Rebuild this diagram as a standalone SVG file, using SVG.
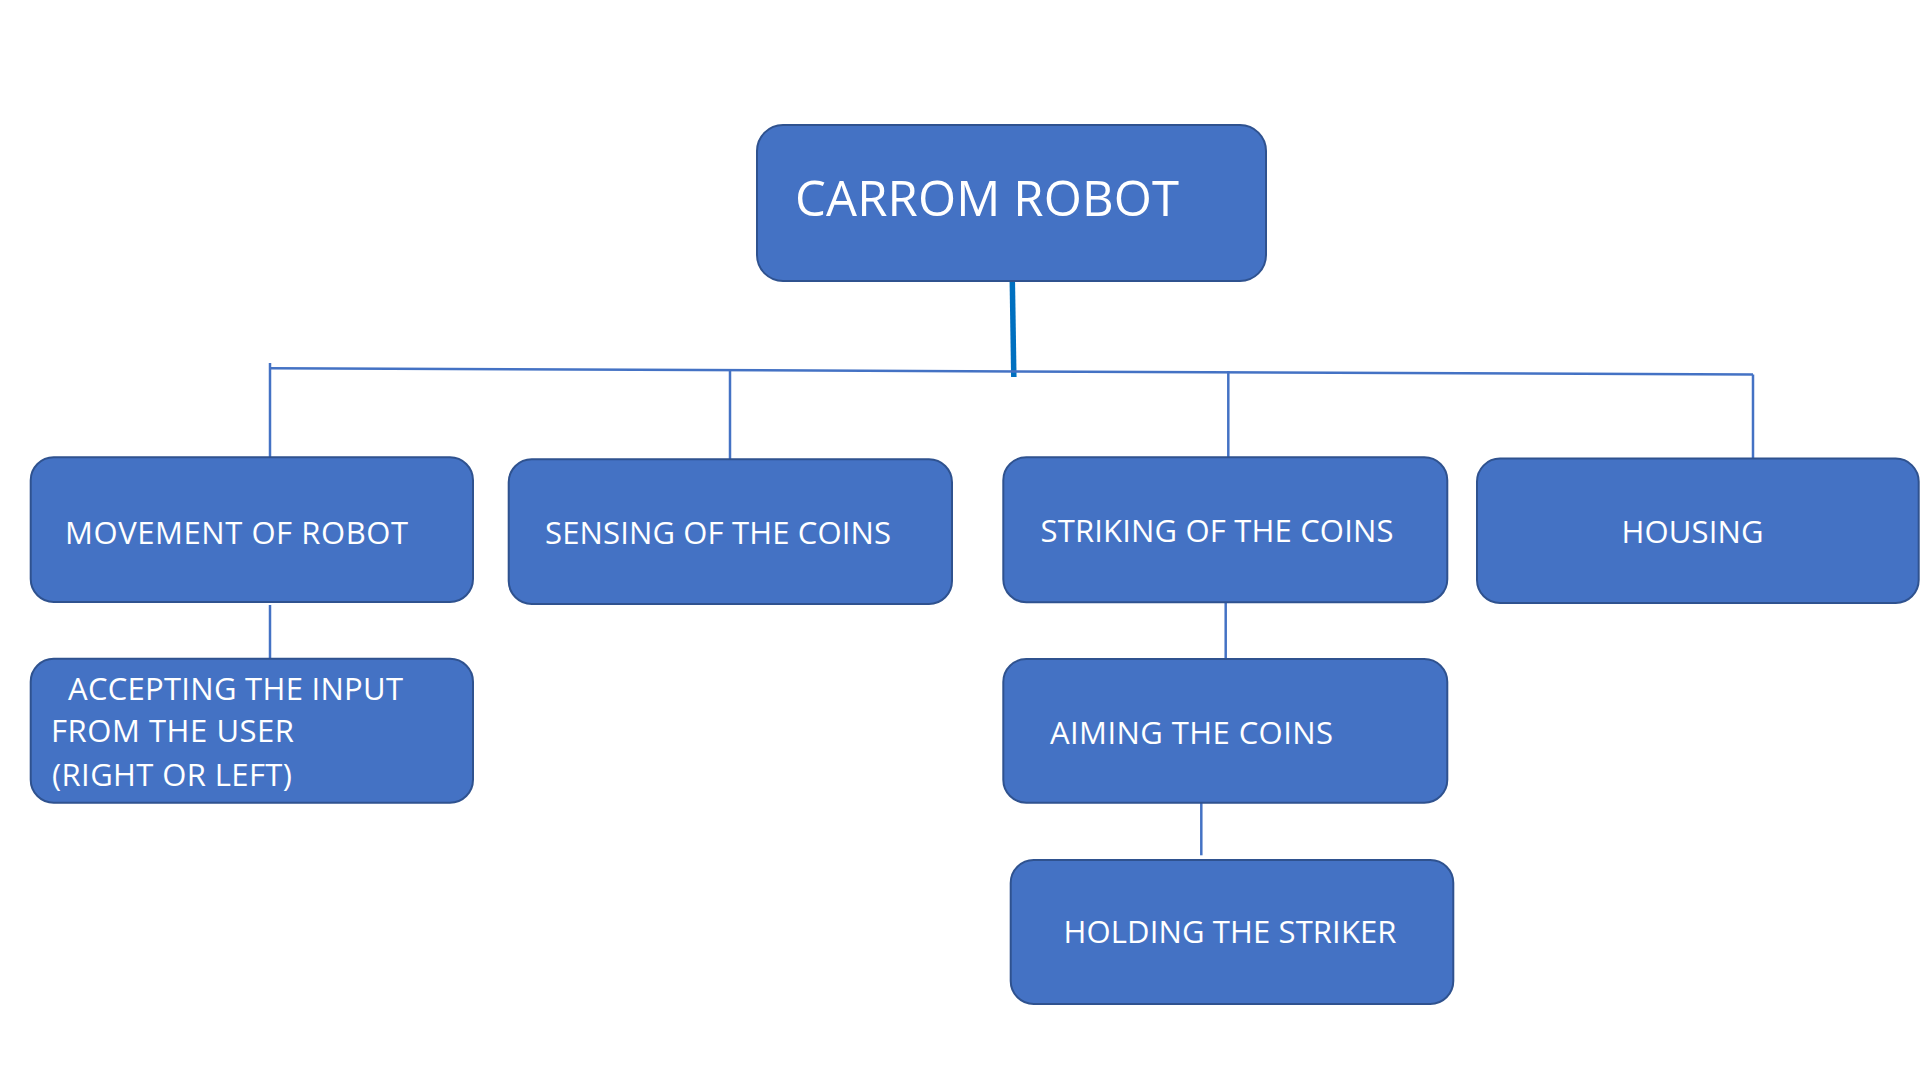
<svg xmlns="http://www.w3.org/2000/svg" width="1920" height="1080" viewBox="0 0 1920 1080">
<style>
.node rect{fill:#4472C4;stroke:#2F528F;stroke-width:2}
.node text{fill:#FFFFFF;font-family:"Open Sans","Noto Sans",sans-serif;font-size:31px}
.conn line{stroke:#4472C4;stroke-width:2.5;fill:none}
.conn line.main{stroke:#0070C0;stroke-width:5.5}
</style>
<rect x="0" y="0" width="1920" height="1080" fill="#FFFFFF"/>
<g id="connectors" class="conn">
  <line class="main" x1="1012.3" y1="281" x2="1013.8" y2="377"/>
  <line x1="270" y1="368.3" x2="1753" y2="374.5"/>
  <line x1="270" y1="363" x2="270" y2="458"/>
  <line x1="730" y1="370" x2="730" y2="460"/>
  <line x1="1228.3" y1="371" x2="1228.3" y2="458"/>
  <line x1="1753" y1="374.5" x2="1753" y2="459"/>
  <line x1="270" y1="605" x2="270" y2="659"/>
  <line x1="1225.7" y1="602" x2="1225.7" y2="659"/>
  <line x1="1201.3" y1="803" x2="1201.3" y2="855.3"/>
</g>
<g id="node-root" class="node">
  <rect x="757" y="125" width="509" height="156" rx="26" ry="26"/>
  <text x="795" y="215.5" style="font-size:49px" textLength="384">CARROM ROBOT</text>
</g>
<g id="node-movement" class="node">
  <rect x="30.7" y="457.3" width="442.3" height="144.7" rx="23" ry="23"/>
  <text x="65" y="544.3" textLength="343">MOVEMENT OF ROBOT</text>
</g>
<g id="node-sensing" class="node">
  <rect x="508.7" y="459.3" width="443.3" height="144.7" rx="23" ry="23"/>
  <text x="545" y="544" textLength="346">SENSING OF THE COINS</text>
</g>
<g id="node-striking" class="node">
  <rect x="1003.3" y="457.3" width="444" height="145" rx="23" ry="23"/>
  <text x="1040.5" y="542.3" textLength="353">STRIKING OF THE COINS</text>
</g>
<g id="node-housing" class="node">
  <rect x="1477" y="458.6" width="441.7" height="144.4" rx="23" ry="23"/>
  <text x="1621.5" y="542.8" textLength="142">HOUSING</text>
</g>
<g id="node-accepting" class="node">
  <rect x="30.7" y="658.7" width="442.3" height="144" rx="23" ry="23"/>
  <text x="68" y="700" textLength="335">ACCEPTING THE INPUT</text>
  <text x="51" y="741.7" textLength="243">FROM THE USER</text>
  <text x="52" y="785.7" textLength="240">(RIGHT OR LEFT)</text>
</g>
<g id="node-aiming" class="node">
  <rect x="1003.3" y="659" width="444" height="143.7" rx="23" ry="23"/>
  <text x="1050" y="744" textLength="283">AIMING THE COINS</text>
</g>
<g id="node-holding" class="node">
  <rect x="1010.7" y="860" width="442.6" height="144" rx="23" ry="23"/>
  <text x="1063.5" y="943.3" textLength="333">HOLDING THE STRIKER</text>
</g>
</svg>
